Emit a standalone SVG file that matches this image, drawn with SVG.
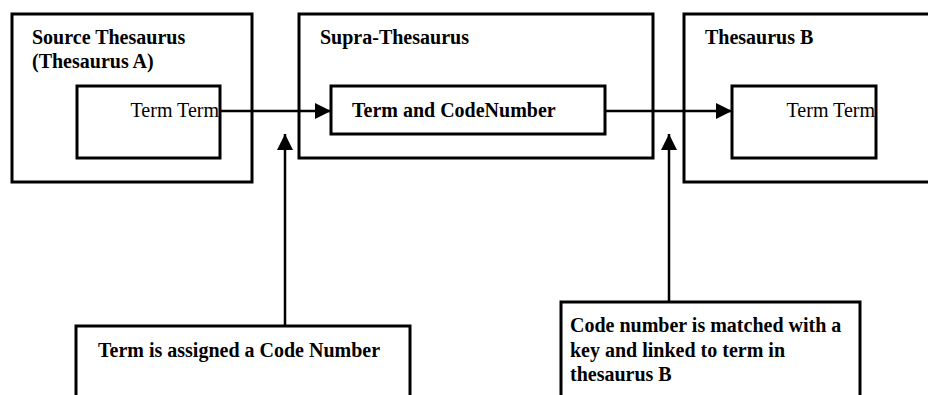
<svg xmlns="http://www.w3.org/2000/svg" width="928" height="395" viewBox="0 0 928 395">
<style>
.box{fill:#fff;stroke:#000;stroke-width:3}
.t{font-family:"Liberation Serif","Times New Roman",serif;font-size:20px;fill:#000}
.b{font-weight:bold}
.c{stroke:#000;stroke-width:2.5;fill:none}
</style>
<defs>
<marker id="ah" markerWidth="16" markerHeight="16" viewBox="0 0 16 16" refX="16" refY="8" orient="auto" markerUnits="userSpaceOnUse">
<path d="M0,0 L16,8 L0,16 Z" fill="#000"/>
</marker>
</defs>
<rect width="928" height="395" fill="#fff"/>
<g id="source">
<rect class="box" x="12" y="14" width="240" height="168"/>
<text class="t b" x="32" y="44">Source Thesaurus</text>
<text class="t b" x="32" y="68">(Thesaurus A)</text>
</g>
<g id="source-term">
<rect class="box" x="77" y="86" width="143" height="72"/>
<text class="t" x="219" y="117" text-anchor="end">Term Term</text>
</g>
<g id="supra">
<rect class="box" x="299" y="14" width="354" height="144"/>
<text class="t b" x="320" y="44">Supra-Thesaurus</text>
</g>
<g id="supra-term">
<rect class="box" x="331" y="86" width="274" height="48"/>
<text class="t b" x="352" y="117">Term and CodeNumber</text>
</g>
<g id="thesB">
<rect class="box" x="684" y="14" width="260" height="168"/>
<text class="t b" x="705" y="44">Thesaurus B</text>
</g>
<g id="thesB-term">
<rect class="box" x="732" y="86" width="144" height="72"/>
<text class="t" x="875" y="117" text-anchor="end">Term Term</text>
</g>
<g id="note-assign">
<rect class="box" x="76" y="326" width="334" height="90"/>
<text class="t b" x="98" y="357">Term is assigned a Code Number</text>
</g>
<g id="note-match">
<rect class="box" x="561" y="302" width="299" height="110"/>
<text class="t b" x="570" y="332">Code number is matched with a</text>
<text class="t b" x="570" y="357">key and linked to term in</text>
<text class="t b" x="570" y="381">thesaurus B</text>
</g>
<g id="connectors">
<line class="c" x1="220" y1="111" x2="331" y2="111" marker-end="url(#ah)"/>
<line class="c" x1="605" y1="111" x2="732" y2="111" marker-end="url(#ah)"/>
<line class="c" x1="285" y1="326" x2="285" y2="134" marker-end="url(#ah)"/>
<line class="c" x1="669" y1="302" x2="669" y2="134" marker-end="url(#ah)"/>
</g>
</svg>
